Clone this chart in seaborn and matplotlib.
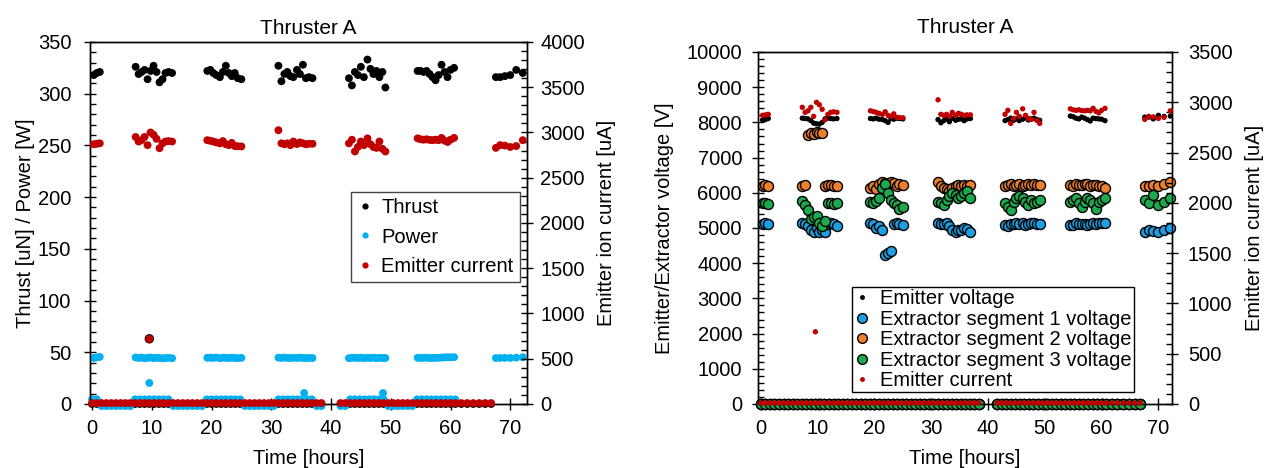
import numpy as np
import matplotlib
matplotlib.use("Agg")
import matplotlib.pyplot as plt
from matplotlib.lines import Line2D
from matplotlib.ticker import MultipleLocator
import seaborn as sns

# ---- on-state samples (thruster firing), times in hours ----
on_time = [0.3, 0.8, 1.3,
           7.3, 7.8, 8.3, 8.8, 9.3, 9.8, 10.3, 10.8, 11.3, 11.8, 12.3, 12.8, 13.4,
           19.3, 19.8, 20.3, 20.8, 21.4, 21.9, 22.4, 22.9, 23.4, 23.9, 24.4, 25.0,
           31.2, 31.7, 32.2, 32.7, 33.2, 33.7, 34.3, 34.8, 35.3, 35.8, 36.3, 36.9,
           43.0, 43.5, 44.0, 44.5, 45.0, 45.5, 46.1, 46.6, 47.1, 47.6, 48.1, 48.6, 49.1,
           54.5, 55.0, 55.5, 56.0, 56.5, 57.0, 57.5, 58.0, 58.5, 59.0, 59.5, 60.0, 60.6,
           67.6, 68.3, 69.1, 70.0, 71.0, 72.1]

thrust_on = [318, 320, 321,
             326, 319, 321, 323, 314, 322, 327, 321, 311, 314, 320, 321, 320,
             322, 323, 320, 318, 316, 321, 327, 320, 317, 320, 315, 314,
             327, 312, 319, 321, 317, 316, 323, 319, 328, 315, 316, 315,
             315, 308, 321, 318, 326, 316, 333, 324, 319, 322, 316, 321, 306,
             322, 322, 321, 322, 319, 316, 313, 318, 328, 321, 316, 323, 325,
             316, 316, 317, 318, 323, 320]

power_on = [44.5, 45.0, 45.5,
            45.0, 44.5, 44.8, 44.2, 44.6, 44.9, 44.3, 44.7, 44.5, 44.1, 44.4, 44.6, 44.2,
            44.6, 44.8, 44.5, 44.9, 44.3, 44.7, 44.6, 44.4, 44.8, 44.5, 44.3, 44.6,
            44.8, 44.5, 44.9, 44.6, 44.4, 44.7, 44.5, 44.8, 44.6, 44.3, 44.5, 44.4,
            44.3, 44.6, 44.8, 44.5, 44.7, 44.4, 44.6, 44.5, 44.8, 44.3, 44.6, 44.5, 44.4,
            44.7, 44.5, 44.6, 44.8, 44.4, 44.6, 44.5, 44.7, 44.9, 45.0, 45.2, 45.1, 45.3,
            44.4, 44.5, 44.6, 44.5, 44.8, 45.2]

current_on = [2870, 2875, 2880,
              2950, 2900, 2915, 2950, 2860, 3000, 2975, 2930, 2826, 2880, 2900, 2905, 2900,
              2915, 2908, 2900, 2890, 2880, 2905, 2870, 2860, 2885, 2850, 2848, 2846,
              3025, 2880, 2870, 2880, 2860, 2900, 2872, 2890, 2880, 2870, 2875, 2875,
              2880, 2920, 2790, 2840, 2900, 2860, 2935, 2870, 2840, 2830, 2900, 2820, 2790,
              2935, 2925, 2920, 2925, 2918, 2915, 2920, 2915, 2940, 2910, 2895, 2920, 2940,
              2830, 2860, 2855, 2840, 2850, 2915]

emitter_v_on = [8070, 8080, 8110,
                8120, 8110, 8100, 8050, 7980, 7960, 7950, 8000, 8100, 8120, 8110, 8100, 8110,
                8110, 8100, 8120, 8090, 8080, 8050, 8000, 8110, 8090, 8120, 8110, 8100,
                8080, 7990, 8050, 8100, 8020, 8120, 8060, 8090, 8100, 8050, 8100, 8110,
                8050, 8080, 8120, 8060, 8100, 8050, 8090, 8130, 8070, 8100, 8120, 8080, 8060,
                8180, 8160, 8120, 8100, 8150, 8120, 8080, 8040, 8120, 8110, 8100, 8090, 8050,
                8150, 8150, 8100, 8200, 8170, 8180]

seg1_v_on = [5110, 5130, 5100,
             5150, 5100, 5050, 4950, 4900, 5000, 4880, 4950, 4900, 5100, 5150, 5100, 5060,
             5150, 5100, 5000, 5050, 4950, 4220, 4300, 4350, 5100, 5150, 5100, 5080,
             5150, 5100, 5120, 5150, 5050, 4950, 4900, 4930, 4950, 5000, 4980, 4900,
             5080, 5070, 5100, 5120, 5150, 5100, 5130, 5080, 5100, 5130, 5150, 5120, 5100,
             5080, 5090, 5150, 5120, 5100, 5110, 5080, 5100, 5150, 5120, 5130, 5150, 5140,
             4900, 4950, 4920, 4900, 4930, 5000]

seg2_v_on = [6200, 6220, 6190,
             6200, 6210, 7650, 7700, 7680, 7720, 7690, 7700, 6200, 6220, 6210, 6200, 6190,
             6150, 6200, 6100, 6250, 6300, 6280, 6250, 6300, 6280, 6200, 6250, 6220,
             6300, 6200, 6150, 6100, 6050, 6150, 6200, 6210, 6200, 6220, 6200, 6210,
             6200, 6220, 6250, 6180, 6220, 6250, 6200, 6230, 6250, 6210, 6250, 6230, 6220,
             6220, 6200, 6250, 6230, 6210, 6250, 6240, 6200, 6230, 6220, 6200, 6180, 6150,
             6200, 6200, 6230, 6200, 6260, 6300]

seg3_v_on = [5700, 5720, 5690,
             5780, 5650, 5520, 5250, 5300, 5350, 5150, 5050, 5200, 5700, 5720, 5680, 5700,
             5750, 5700, 5780, 5850, 6150, 6250, 6000, 5800, 5700, 5650, 5550, 5600,
             5750, 5700, 5650, 5800, 5900, 6000, 5950, 5850, 5900, 6000, 6050, 5850,
             5700, 5600, 5500, 5750, 5850, 5900, 5850, 5750, 5650, 5800, 5700, 5750, 5800,
             5750, 5800, 5850, 5700, 5600, 5750, 5850, 5800, 5700, 5550, 5750, 5800, 5850,
             5800, 5700, 5950, 5650, 5750, 5850]

# ---- off-state samples (near zero readings) ----
off_time = [0.0, 0.8, 1.6, 2.4, 3.2, 4.0, 4.8, 5.6, 6.4, 7.2, 8.0, 8.8, 9.6, 10.4, 11.2,
            12.0, 12.8, 13.6, 14.4, 15.2, 16.0, 16.8, 17.6, 18.4, 19.2, 20.0, 20.8, 21.6,
            22.4, 23.2, 24.0, 24.8, 25.6, 26.4, 27.2, 28.0, 28.8, 29.6, 30.4, 31.2, 32.0,
            32.8, 33.6, 34.4, 35.2, 36.0, 36.8, 37.6, 38.4,
            41.6, 42.4, 43.2, 44.0, 44.8, 45.6, 46.4, 47.2, 48.0, 48.8, 49.6, 50.4, 51.2,
            52.0, 52.8, 53.6, 54.4, 55.2, 56.0, 56.8, 57.6, 58.4, 59.2, 60.0, 60.8,
            61.8, 62.8, 63.8, 64.8, 65.8, 66.8]

power_off = [4.5, 4.5, -2, -2, -2, -2, -2, -2, -2, 4.5, 4.5, 4.5, 4.5, 4.5, 4.5,
             4.5, 4.5, -2, -2, -2, -2, -2, -2, -2, 4.5, 4.5, 4.5, 4.5,
             4.5, 4.5, 4.5, 4.5, -2, -2, -2, -2, -2, -2, -2, 4.5, 4.5,
             4.5, 4.5, 4.5, 4.5, 4.5, 4.5, -2, -2,
             -2, -2, 4.5, 4.5, 4.5, 4.5, 4.5, 4.5, 4.5, 4.5, -2, -2, -2,
             -2, -2, -2, 4.5, 4.5, 4.5, 4.5, 4.5, 4.5, 4.5, 4.5, 4.5,
             np.nan, np.nan, np.nan, np.nan, np.nan, np.nan]

thrust_off = [0.0] * len(off_time)
current_off = [10.0] * len(off_time)
voltage_off = [0.0] * len(off_time)

# ---- isolated outliers ----
spike_time = [9.6]
thrust_spike = [63]
current_spike = [718]
power_spike_time = [9.6, 35.5, 48.7]
power_spike = [20.3, 10.6, 10.6]

BLACK = "#000000"
BLUE_P = "#00B0F0"
RED = "#C00000"
BLUE = "#1E9FE3"
ORANGE = "#EE7F2D"
GREEN = "#1DAA4C"
FS = 14.5

sns.set_style("ticks")
plt.rcParams["font.family"] = ["Liberation Sans", "DejaVu Sans"]
plt.rcParams["axes.linewidth"] = 1.0
for key in ("text.color", "axes.labelcolor", "xtick.color", "ytick.color",
            "axes.edgecolor"):
    plt.rcParams[key] = "black"

fig = plt.figure(figsize=(12.68, 4.68), dpi=100)
ax1 = fig.add_axes([0.0710, 0.1368, 0.3446, 0.7735])
ax2 = fig.add_axes([0.5978, 0.1368, 0.3265, 0.7521])


def style_axis(ax, major, minor, xlim, ylim, ypad):
    ax.set_ylim(*ylim)
    ax.set_xlim(*xlim)
    ax.yaxis.set_major_locator(MultipleLocator(major))
    ax.yaxis.set_minor_locator(MultipleLocator(minor))
    ax.xaxis.set_major_locator(MultipleLocator(10))
    ax.tick_params(axis="y", which="major", direction="inout", length=9, width=1,
                   labelsize=FS, pad=ypad, colors="black")
    ax.tick_params(axis="y", which="minor", direction="in", length=4, width=1)
    ax.tick_params(axis="x", which="major", direction="inout", length=9, width=1,
                   labelsize=FS, pad=6, colors="black")
    for s in ax.spines.values():
        s.set_visible(True)
        s.set_color("black")


def dots(ax, x, y, color, s, edge="none", lw=0):
    sns.scatterplot(x=x, y=y, ax=ax, color=color, s=s, edgecolor=edge,
                    linewidth=lw, legend=False, clip_on=False, zorder=3)


# ---------------- left chart ----------------
style_axis(ax1, 50, 10, (-0.33, 72.8), (0, 350), 9)
ax1b = ax1.twinx()
style_axis(ax1b, 500, 100, (-0.33, 72.8), (0, 4000), 5)

dots(ax1, on_time, thrust_on, BLACK, 32)
dots(ax1, off_time, thrust_off, BLACK, 32)
dots(ax1, spike_time, thrust_spike, BLACK, 46)
dots(ax1, on_time, power_on, BLUE_P, 32)
dots(ax1, off_time, power_off, BLUE_P, 32)
dots(ax1, power_spike_time, power_spike, BLUE_P, 32)
dots(ax1b, on_time, current_on, RED, 32)
dots(ax1b, off_time, current_off, RED, 32)
dots(ax1b, spike_time, current_spike, RED, 32)

ax1.set_title("Thruster A", fontsize=15, pad=6)
ax1.set_xlabel("Time [hours]", fontsize=FS, labelpad=8)
ax1.set_ylabel("Thrust [uN] / Power [W]", fontsize=FS, labelpad=2)
ax1b.set_ylabel("Emitter ion current [uA]", fontsize=FS, labelpad=9)

h1 = [Line2D([], [], ls="none", marker="o", ms=4.5, mfc=c, mec="none")
      for c in (BLACK, BLUE_P, RED)]
leg1 = ax1b.legend(h1, ["Thrust", "Power", "Emitter current"], loc="upper left",
                   bbox_to_anchor=(351 / 1268, 1 - 192 / 468), bbox_transform=fig.transFigure,
                   fontsize=FS, frameon=True, fancybox=False, framealpha=1,
                   edgecolor="#444444", borderaxespad=0, borderpad=0.3,
                   labelspacing=0.52, handlelength=0.8, handletextpad=0.4)
leg1.get_frame().set_linewidth(1.0)

# ---------------- right chart ----------------
style_axis(ax2, 1000, 200, (-0.5, 72.4), (0, 10000), 7)
ax2b = ax2.twinx()
style_axis(ax2b, 500, 100, (-0.5, 72.4), (0, 3500), 7)

dots(ax2, on_time, emitter_v_on, BLACK, 15)
dots(ax2, off_time, voltage_off, BLACK, 15)
for vals, col in ((seg1_v_on, BLUE), (seg2_v_on, ORANGE), (seg3_v_on, GREEN)):
    dots(ax2, on_time, vals, col, 52, edge="black", lw=1.0)
    dots(ax2, off_time, voltage_off, col, 52, edge="black", lw=1.0)
dots(ax2b, on_time, current_on, RED, 15)
dots(ax2b, off_time, current_off, RED, 15)
dots(ax2b, spike_time, current_spike, RED, 15)

ax2.set_title("Thruster A", fontsize=15, pad=14)
ax2.set_xlabel("Time [hours]", fontsize=FS, labelpad=8)
ax2.set_ylabel("Emitter/Extractor voltage [V]", fontsize=FS, labelpad=9)
ax2b.set_ylabel("Emitter ion current [uA]", fontsize=FS, labelpad=9)

h2 = [Line2D([], [], ls="none", marker="o", ms=3.5, mfc=BLACK, mec="none")]
h2 += [Line2D([], [], ls="none", marker="o", ms=7, mfc=c, mec="black", mew=1.0)
       for c in (BLUE, ORANGE, GREEN)]
h2 += [Line2D([], [], ls="none", marker="o", ms=3.5, mfc=RED, mec="none")]
leg2 = ax2b.legend(h2, ["Emitter voltage", "Extractor segment 1 voltage",
                        "Extractor segment 2 voltage", "Extractor segment 3 voltage",
                        "Emitter current"], loc="upper left",
                   bbox_to_anchor=(852 / 1268, 1 - 287 / 468), bbox_transform=fig.transFigure,
                   fontsize=FS, frameon=True, fancybox=False, framealpha=1,
                   edgecolor="black", borderaxespad=0, borderpad=0.1,
                   labelspacing=0.08, handlelength=0.8, handletextpad=0.5)
leg2.get_frame().set_linewidth(1.0)

fig.savefig("out.png", dpi=100)
